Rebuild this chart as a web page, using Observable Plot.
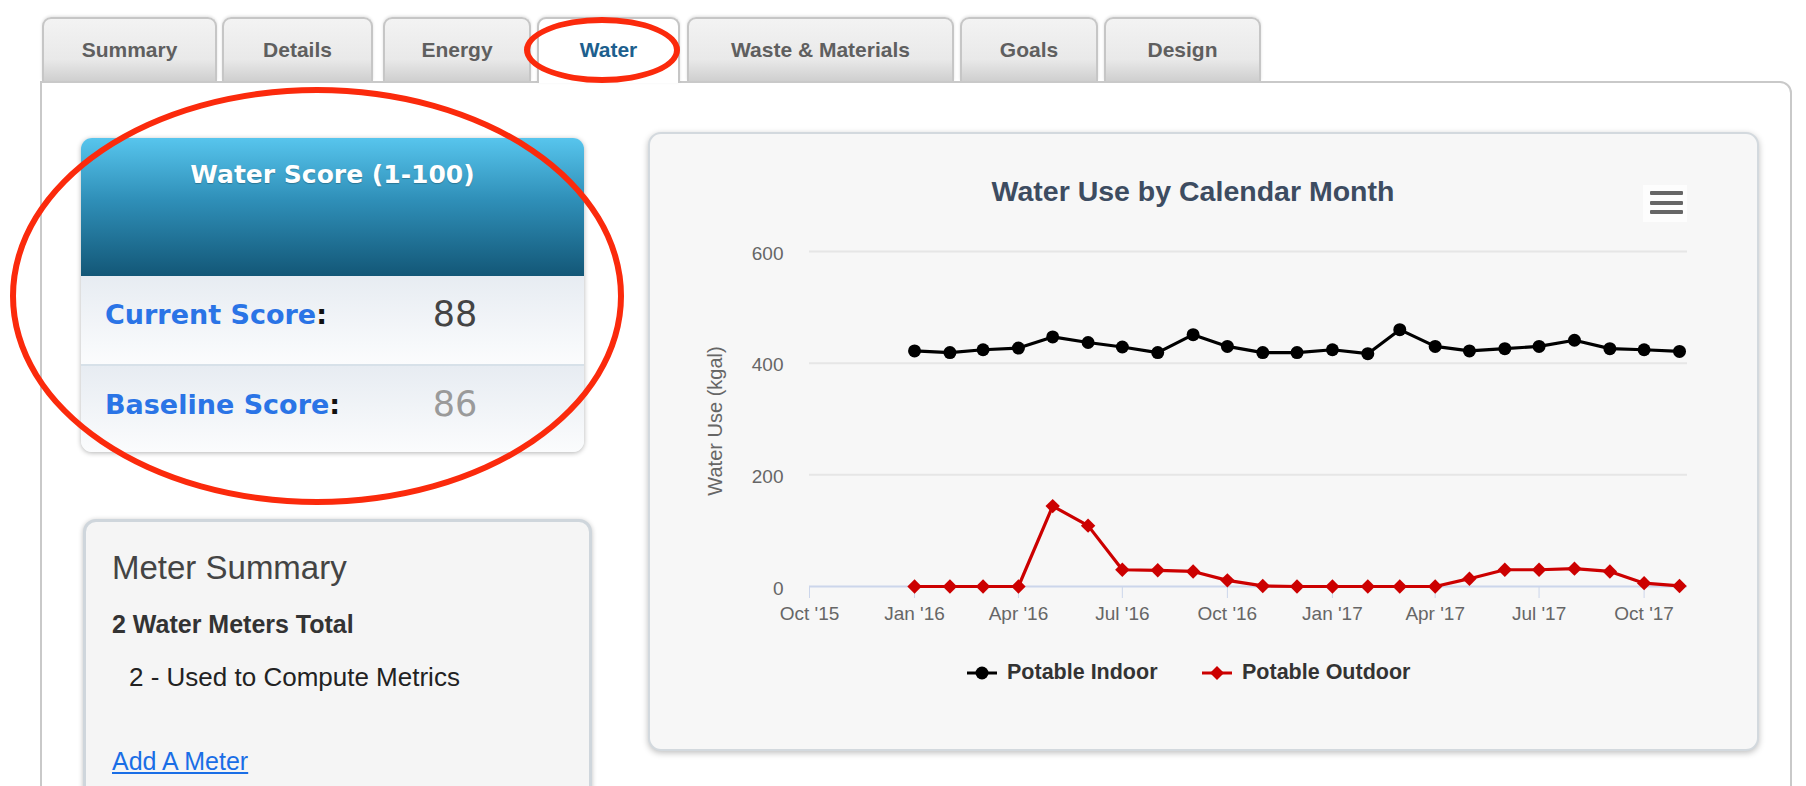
<!DOCTYPE html>
<html>
<head>
<meta charset="utf-8">
<script src="https://cdn.jsdelivr.net/npm/d3@7"></script>
<script src="https://cdn.jsdelivr.net/npm/@observablehq/plot@0.6"></script>
<style>
  html, body { margin: 0; padding: 0; }
  body { width: 1806px; height: 786px; overflow: hidden; background: #fff; position: relative; font-family: "Liberation Sans", Arial, sans-serif; }
  .abs { position: absolute; }
  .tab { position: absolute; top: 17px; height: 64px; box-sizing: border-box; border: 2px solid #c6c6c6; border-bottom: none;
         border-radius: 9px 9px 0 0; background: linear-gradient(#f3f3f3 0%, #e9e9e9 65%, #cfcfcf 100%);
         box-shadow: 0 -1px 3px rgba(0,0,0,0.12); text-align: center;
         font: bold 21px/62px "Liberation Sans", Arial, sans-serif; color: #5f5f5f; }
  .tab.active { background: #fff; height: 66px; z-index: 3; color: #1d5f8e; }
  .panel { left: 40px; top: 81px; width: 1752px; height: 760px; box-sizing: border-box; border: 2px solid #c9c9c9; border-radius: 0 12px 0 0; background: #fff; z-index: 2; }
  .score { left: 81px; top: 138px; width: 503px; height: 314px; border-radius: 11px; overflow: hidden; box-shadow: 0 1px 5px rgba(0,0,0,0.3); z-index: 4; background: #f6f8fa; }
  .score .head { position: absolute; left: 0; top: 0; width: 100%; height: 138px; background: linear-gradient(#57c5ed 0%, #2f8fb8 45%, #135777 100%); }
  .score .head div { position: absolute; left: 0; width: 100%; top: 22px; text-align: center; color: #fff; font: bold 25px "DejaVu Sans", Verdana, sans-serif; text-shadow: 0 1px 1px rgba(0,0,0,0.25); }
  .score .row { position: absolute; left: 0; width: 100%; background: linear-gradient(#e7ecf2 0%, #fbfcfd 100%); }
  .score .lab { position: absolute; left: 24px; font: bold 27px "DejaVu Sans", Verdana, sans-serif; color: #2a74e6; }
  .score .lab span { color: #111; }
  .score .val { position: absolute; left: 334px; width: 80px; text-align: center; font: 35px "DejaVu Sans", Verdana, sans-serif; }
  .meter { left: 83px; top: 519px; width: 509px; height: 320px; box-sizing: border-box; border: 3px solid #cfd6dc; border-radius: 13px; background: #f5f5f5; box-shadow: 0 1px 5px rgba(0,0,0,0.25); z-index: 4; }
  .chartcard { left: 648px; top: 132px; width: 1111px; height: 619px; box-sizing: border-box; border: 2px solid #d3d9de; border-radius: 13px; background: #f7f7f7; box-shadow: 0 2px 6px rgba(0,0,0,0.25); z-index: 4; }
  .ellipse { position: absolute; box-sizing: border-box; border: 6px solid #fb2a0c; border-radius: 50%; z-index: 10; }
</style>
</head>
<body>
<script>
// ---------------- data ----------------
const tabLabels = ["Summary", "Details", "Energy", "Water", "Waste & Materials", "Goals", "Design"];
const months = ["2016-01","2016-02","2016-03","2016-04","2016-05","2016-06","2016-07","2016-08","2016-09","2016-10","2016-11","2016-12",
                "2017-01","2017-02","2017-03","2017-04","2017-05","2017-06","2017-07","2017-08","2017-09","2017-10","2017-11"];
const potableIndoor  = [422, 419, 424, 427, 447, 437, 429, 419, 451, 430, 419, 419, 424, 417, 460, 430, 422, 426, 430, 441, 426, 424, 421];
const potableOutdoor = [0, 0, 0, 0, 144, 109, 30, 29, 27, 11, 1, 0, 0, 0, 0, 0, 14, 30, 30, 32, 27, 6, 1];
const seriesNames = ["Potable Indoor", "Potable Outdoor"];
const seriesColors = ["#000000", "#cc0000"];
const xTickDates = ["2015-10-01","2016-01-01","2016-04-01","2016-07-01","2016-10-01","2017-01-01","2017-04-01","2017-07-01","2017-10-01"];
const yTicks = [0, 200, 400, 600];
const yGrid = [200, 400, 600];
const chartTitle = "Water Use by Calendar Month";
const yLabel = "Water Use (kgal)";
const scoreTitle = "Water Score (1-100)";
const currentScore = 88;
const baselineScore = 86;

// ---------------- page chrome ----------------
const tabPos = [[42,175],[222,151],[383,148],[537,143],[687,267],[960,138],[1104,157]];
tabLabels.forEach((t, i) => {
  const d = document.createElement("div");
  d.className = "tab" + (t === "Water" ? " active" : "");
  d.style.left = tabPos[i][0] + "px";
  d.style.width = tabPos[i][1] + "px";
  d.textContent = t;
  document.body.appendChild(d);
});

const panel = document.createElement("div");
panel.className = "abs panel";
document.body.appendChild(panel);

// score card
const score = document.createElement("div");
score.className = "abs score";
score.innerHTML = `
  <div class="head"><div>${scoreTitle}</div></div>
  <div class="row" style="top:138px;height:88px;border-bottom:2px solid #d7e1e9;">
    <div class="lab" style="top:23px">Current Score<span>:</span></div>
    <div class="val" style="top:18px;color:#444">${currentScore}</div>
  </div>
  <div class="row" style="top:228px;height:86px;">
    <div class="lab" style="top:23px">Baseline Score<span>:</span></div>
    <div class="val" style="top:18px;color:#9a9a9a">${baselineScore}</div>
  </div>`;
document.body.appendChild(score);

// meter card
const meter = document.createElement("div");
meter.className = "abs meter";
meter.innerHTML = `
  <div class="abs" style="left:26px;top:27px;font:33px 'Liberation Sans',Arial,sans-serif;color:#444">Meter Summary</div>
  <div class="abs" style="left:26px;top:88px;font:bold 25px 'Liberation Sans',Arial,sans-serif;color:#333">2 Water Meters Total</div>
  <div class="abs" style="left:43px;top:140px;font:26px 'Liberation Sans',Arial,sans-serif;color:#222">2 - Used to Compute Metrics</div>
  <div class="abs" style="left:26px;top:225px;font:25px 'Liberation Sans',Arial,sans-serif;color:#1a6ee6;text-decoration:underline">Add A Meter</div>`;
document.body.appendChild(meter);

// chart card
const card = document.createElement("div");
card.className = "abs chartcard";
document.body.appendChild(card);

const title = document.createElement("div");
title.className = "abs";
title.style.cssText = "left:648px;width:1090px;top:175px;text-align:center;font:bold 28.5px 'Liberation Sans',Arial,sans-serif;color:#3d4c61;z-index:5;";
title.textContent = chartTitle;
document.body.appendChild(title);

// hamburger
const ham = document.createElement("div");
ham.className = "abs";
ham.style.cssText = "left:1643px;top:185px;width:44px;height:37px;background:#fdfdfd;z-index:5;";
[6, 16, 25].forEach(y => {
  const b = document.createElement("div");
  b.className = "abs";
  b.style.cssText = `left:7px;top:${y}px;width:33px;height:4px;background:#666;border-radius:1px;`;
  ham.appendChild(b);
});
document.body.appendChild(ham);

// ---------------- chart ----------------
const data = months.map((m, i) => ({date: new Date(m + "-01"), indoor: potableIndoor[i], outdoor: potableOutdoor[i]}));
const tickDates = xTickDates.map(s => new Date(s));
const fmt = d3.utcFormat("%b '%y");

const chart = Plot.plot({
  width: 1000,
  height: 400,
  marginLeft: 109,
  marginRight: 13,
  marginTop: 21,
  marginBottom: 44,
  style: {background: "transparent", fontFamily: "'Liberation Sans', Arial, sans-serif", fontSize: "19px", color: "#666", overflow: "visible"},
  x: {type: "utc", domain: [new Date("2015-10-01"), new Date("2017-11-08")]},
  y: {domain: [0, 600]},
  marks: [
    Plot.ruleY(yGrid, {stroke: "#e6e6e6", strokeWidth: 2}),
    Plot.ruleY([0], {stroke: "#ccd6eb", strokeWidth: 2}),
    Plot.axisX(tickDates, {tickSize: 12, tickPadding: 8, stroke: "#ccd6eb", fill: "#666", tickFormat: fmt, fontSize: 19, label: null}),
    Plot.axisY(yTicks, {tickSize: 0, tickPadding: 26, fill: "#666", fontSize: 19, label: null, dy: 2}),
    Plot.text([yLabel], {frameAnchor: "left", textAnchor: "middle", rotate: -90, dx: -94, dy: 2, fill: "#666", fontSize: 20}),
    Plot.line(data, {x: "date", y: "indoor", stroke: seriesColors[0], strokeWidth: 3.2}),
    Plot.dot(data, {x: "date", y: "indoor", r: 6.5, fill: seriesColors[0], symbol: "circle"}),
    Plot.line(data, {x: "date", y: "outdoor", stroke: seriesColors[1], strokeWidth: 3.2}),
    Plot.dot(data, {x: "date", y: "outdoor", r: 6.5, fill: seriesColors[1], symbol: "diamond2"})
  ]
});
const holder = document.createElement("div");
holder.className = "abs";
holder.style.cssText = "left:700px;top:230px;z-index:6;";
holder.appendChild(chart);
document.body.appendChild(holder);

// legend
const legend = document.createElement("div");
legend.className = "abs";
legend.style.cssText = "left:0;top:0;z-index:6;";
const legPos = [967, 1202];
seriesNames.forEach((name, i) => {
  const c = seriesColors[i];
  const sw = document.createElement("div");
  sw.className = "abs";
  sw.style.cssText = `left:${legPos[i]}px;top:661px;`;
  const marker = i === 0
    ? `<circle cx="15" cy="12" r="6.5" fill="${c}"/>`
    : `<path d="M15,5 L22,12 L15,19 L8,12 Z" fill="${c}"/>`;
  sw.innerHTML = `<svg width="30" height="24"><line x1="0" x2="30" y1="12" y2="12" stroke="${c}" stroke-width="3"/>${marker}</svg>`;
  legend.appendChild(sw);
  const tx = document.createElement("div");
  tx.className = "abs";
  tx.style.cssText = `left:${legPos[i] + 40}px;top:660px;font:bold 21.5px 'Liberation Sans',Arial,sans-serif;color:#333;white-space:nowrap;`;
  tx.textContent = name;
  legend.appendChild(tx);
});
document.body.appendChild(legend);

// red annotation ellipses
[[10, 87, 614, 418], [524, 17, 156, 66]].forEach(([l, t, w, h]) => {
  const e = document.createElement("div");
  e.className = "ellipse";
  e.style.cssText = `left:${l}px;top:${t}px;width:${w}px;height:${h}px;`;
  document.body.appendChild(e);
});
</script>
</body>
</html>
